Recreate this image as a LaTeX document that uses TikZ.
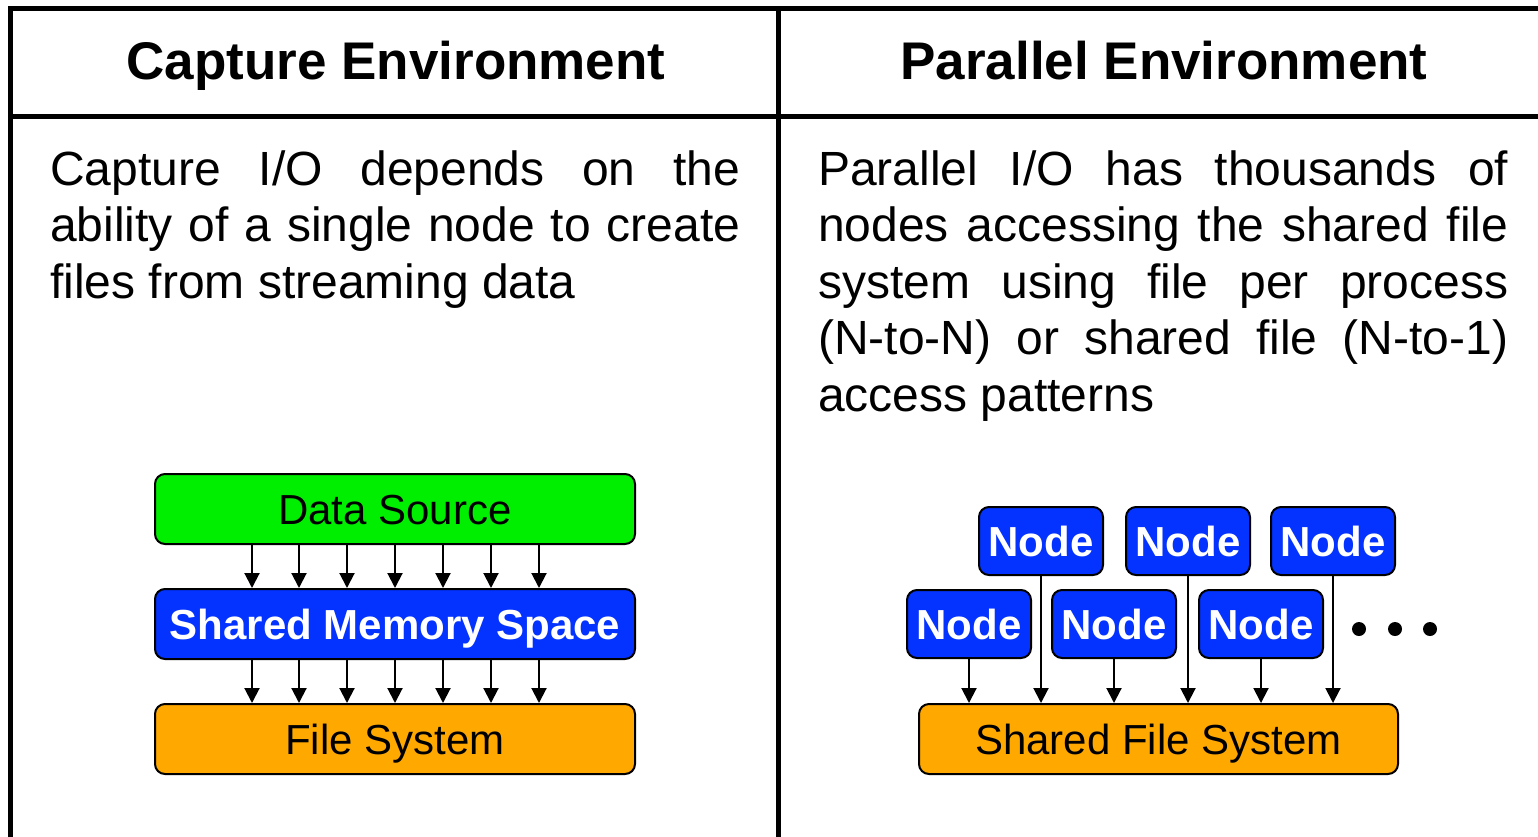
\documentclass[tikz,border=0pt]{standalone}
\usepackage{fontspec}
\setmainfont{Liberation Sans}
\usetikzlibrary{arrows.meta}
\definecolor{dsgreen}{RGB}{0,238,0}
\definecolor{memblue}{RGB}{4,51,255}
\definecolor{fsorange}{RGB}{255,168,0}
\tikzset{
  tabline/.style={line width=5pt, line cap=rect},
  box/.style={draw=black, line width=2pt, rounded corners=10pt, inner sep=0pt, minimum width=480pt, minimum height=70pt, align=center, text height=30pt, text depth=0pt},
  nodebox/.style={draw=black, line width=2pt, rounded corners=10pt, inner sep=0pt, minimum width=124pt, minimum height=68pt, fill=memblue, text=white, text height=30pt, text depth=0pt, font=\fontsize{42}{48}\selectfont\bfseries},
  arr/.style={line width=2pt, -{Triangle[width=15pt,length=15pt]}},
  hdr/.style={anchor=base, font=\fontsize{53}{60}\selectfont\bfseries, inner sep=0pt},
  body/.style={anchor=base west, font=\fontsize{48}{56}\selectfont, inner sep=0pt},
  dotc/.style={circle, fill=black, inner sep=0pt, minimum size=14pt}
}
\begin{document}
\begin{tikzpicture}[x=1pt,y=-1pt]
\useasboundingbox (0,0) rectangle (1538,836);
% table lines
\coordinate (tl) at (10,8);
\coordinate (tr) at (1545,8);
\coordinate (ml) at (10,116);
\coordinate (mr) at (1545,116);
\coordinate (bl) at (10,845);
\coordinate (mt) at (778,8);
\coordinate (mb) at (778,845);
\draw[tabline] (tr) -- (tl) -- (bl);
\draw[tabline] (ml) -- (mr);
\draw[tabline] (mt) -- (mb);
% headers
\node[hdr] (h1) at (396,79) {Capture Environment};
\node[hdr] (h2) at (1164,79) {Parallel Environment};
% body text left
\node[body] (l1) at (50,185) {\makebox[690pt][s]{Capture I/O depends on the}};
\node[body] (l2) at (50,241.5) {\makebox[690pt][s]{ability of a single node to create}};
\node[body] (l3) at (50,298) {files from streaming data};
% body text right
\node[body] (r1) at (818,185) {\makebox[690pt][s]{Parallel I/O has thousands of}};
\node[body] (r2) at (818,241.5) {\makebox[690pt][s]{nodes accessing the shared file}};
\node[body] (r3) at (818,298) {\makebox[690pt][s]{system using file per process}};
\node[body] (r4) at (818,354.5) {\makebox[690pt][s]{(N-to-N) or shared file (N-to-1)}};
\node[body] (r5) at (818,411) {access patterns};
% left diagram
\node[box, fill=dsgreen, font=\fontsize{42}{48}\selectfont] (ds) at (395,509) {Data Source};
\node[box, fill=memblue, text=white, font=\fontsize{42}{48}\selectfont\bfseries] (sms) at (395,624) {Shared Memory Space};
\node[box, fill=fsorange, font=\fontsize{42}{48}\selectfont] (fs) at (395,739) {File System};
\foreach \x [count=\i] in {252,299,347,395,443,491,539} {
  \coordinate (c\i) at (\x,0);
  \draw[arr] (ds.south -| c\i) -- (sms.north -| c\i);
  \draw[arr] (sms.south -| c\i) -- (fs.north -| c\i);
}
% right diagram
\node[box, fill=fsorange, minimum width=479pt, font=\fontsize{42}{48}\selectfont] (sfs) at (1158.5,739) {Shared File System};
\node[nodebox] (t1) at (1041,541) {Node};
\node[nodebox] (t2) at (1188,541) {Node};
\node[nodebox] (t3) at (1333,541) {Node};
\node[nodebox] (b1) at (969,624) {Node};
\node[nodebox] (b2) at (1114,624) {Node};
\node[nodebox] (b3) at (1261,624) {Node};
\foreach \n in {t1,t2,t3,b1,b2,b3} {
  \draw[arr] (\n.south) -- (\n.south |- sfs.north);
}
\node[dotc] (d1) at (1359,629) {};
\node[dotc] (d2) at (1395,629) {};
\node[dotc] (d3) at (1430,629) {};
\end{tikzpicture}
\end{document}
